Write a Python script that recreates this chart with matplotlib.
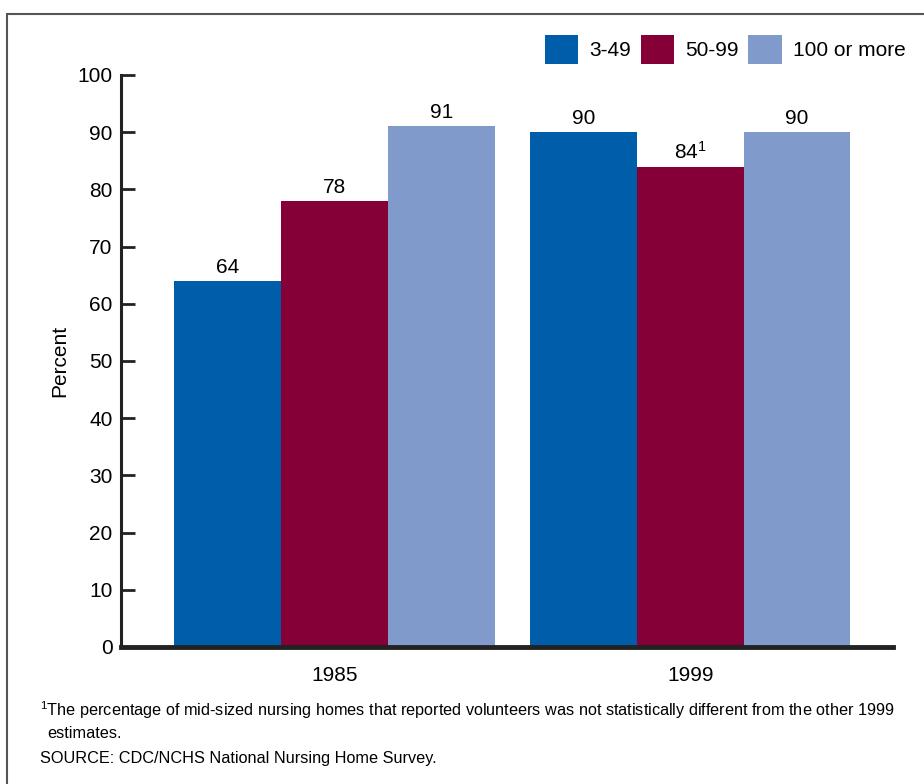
import matplotlib
matplotlib.use("Agg")
import matplotlib.pyplot as plt
from matplotlib.patches import Rectangle
import numpy as np

plt.rcParams['font.family'] = ['Liberation Sans', 'DejaVu Sans']
plt.rcParams['mathtext.default'] = 'regular'

years = ["1985", "1999"]
series = ["3-49", "50-99", "100 or more"]
values = {
    "3-49": [64, 90],
    "50-99": [78, 84],
    "100 or more": [91, 90],
}
value_labels = {
    "3-49": ["64", "90"],
    "50-99": ["78", "84$^{1}$"],
    "100 or more": ["91", "90"],
}
colors = {"3-49": "#005DA9", "50-99": "#850037", "100 or more": "#7F9ACB"}
yticks = [0, 10, 20, 30, 40, 50, 60, 70, 80, 90, 100]

FS = 15

fig = plt.figure(figsize=(9.24, 7.84), dpi=100)
ax = fig.add_axes([121/924, 1-647/784, (893-121)/924, (647-75)/784])

x = np.arange(len(years))
w = 0.30
handles = []
for i, s in enumerate(series):
    bars = ax.bar(x + (i-1)*w, values[s], width=w, color=colors[s], label=s)
    ax.bar_label(bars, labels=value_labels[s], padding=3, fontsize=FS)
    handles.append(bars)

ax.set_xlim(-0.60, 1.57)
ax.set_ylim(0, 100)
ax.set_yticks(yticks)
ax.set_xticks(x)
ax.set_xticklabels(years, fontsize=FS)
ax.tick_params(axis='y', direction='in', length=10, width=2, labelsize=FS, pad=6, color='#222222')
ax.tick_params(axis='x', length=0, pad=14)
for s in ['top', 'right']:
    ax.spines[s].set_visible(False)
ax.spines['left'].set_linewidth(2.2)
ax.spines['left'].set_color('#222222')
ax.spines['bottom'].set_linewidth(3.5)
ax.spines['bottom'].set_color('#222222')
ax.set_ylabel("Percent", fontsize=FS, labelpad=6)

fig.legend(handles=handles, labels=series, loc='upper right',
           bbox_to_anchor=(906/924, 1-35/784), ncol=3, frameon=False,
           fontsize=FS, handlelength=1.6, handleheight=1.75,
           handletextpad=0.55, columnspacing=0.45, borderpad=0, borderaxespad=0)

# outer frame
fig.patches.append(Rectangle((7/924, -0.05), 1.1, 1-14/784+0.05,
                             transform=fig.transFigure, fill=False,
                             edgecolor='#555555', linewidth=1.5))

fig.text(40/924, 1-716/784,
         "$^{1}$The percentage of mid-sized nursing homes that reported volunteers was not statistically different from the other 1999",
         fontsize=11.7, va='baseline', ha='left')
fig.text(47/924, 1-738/784, "estimates.", fontsize=11.7, va='baseline', ha='left')
fig.text(40/924, 1-763/784, "SOURCE: CDC/NCHS National Nursing Home Survey.",
         fontsize=11.7, va='baseline', ha='left')

fig.savefig("out.png", dpi=100)
